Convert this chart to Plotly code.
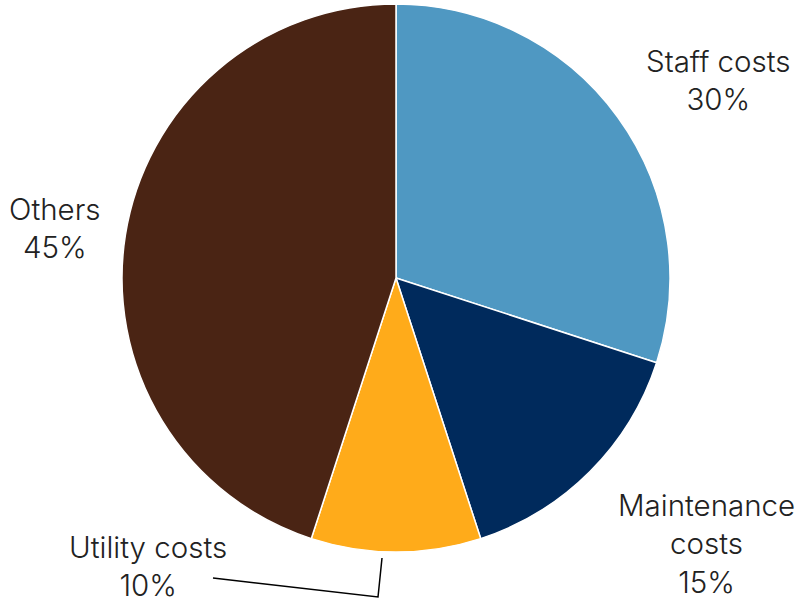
import plotly.graph_objects as go

categories = ["Staff costs", "Maintenance costs", "Utility costs", "Others"]
values = [30, 15, 10, 45]
colors = ["#4F98C2", "#002A5C", "#FFAB1A", "#4A2414"]
label_texts = ["Staff costs<br>30%", "Maintenance<br>costs<br>15%", "Utility costs<br>10%", "Others<br>45%"]

W, H = 801, 602

def px(x):
    return x / W

def py(y):
    return 1 - y / H

fig = go.Figure(go.Pie(
    labels=categories,
    values=values,
    sort=False,
    direction="clockwise",
    rotation=0,
    marker=dict(colors=colors, line=dict(color="white", width=1.5)),
    textinfo="none",
    hoverinfo="label+percent",
    domain=dict(x=[px(396 - 274), px(396 + 274)], y=[py(552), py(4)]),
    showlegend=False,
))

label_pos = [(718, 80), (706, 543), (148, 566), (54, 228)]
font = dict(family="Inter", size=29.5, color="#222222", weight=300)
for txt, (x, y) in zip(label_texts, label_pos):
    fig.add_annotation(text=txt, x=px(x), y=py(y), xref="paper", yref="paper",
                       xanchor="center", yanchor="middle", showarrow=False,
                       font=font, align="center")

fig.add_shape(type="path",
              path=f"M {px(213)} {py(578)} L {px(378)} {py(597)} L {px(382)} {py(558)}",
              xref="paper", yref="paper", line=dict(color="black", width=1.5))

fig.update_layout(width=W, height=H, margin=dict(l=0, r=0, t=0, b=0),
                  paper_bgcolor="white", plot_bgcolor="white")
fig.write_html("out.html", config={"displayModeBar": False},
               post_script="document.body.style.margin='0px';document.body.style.overflow='hidden';")
